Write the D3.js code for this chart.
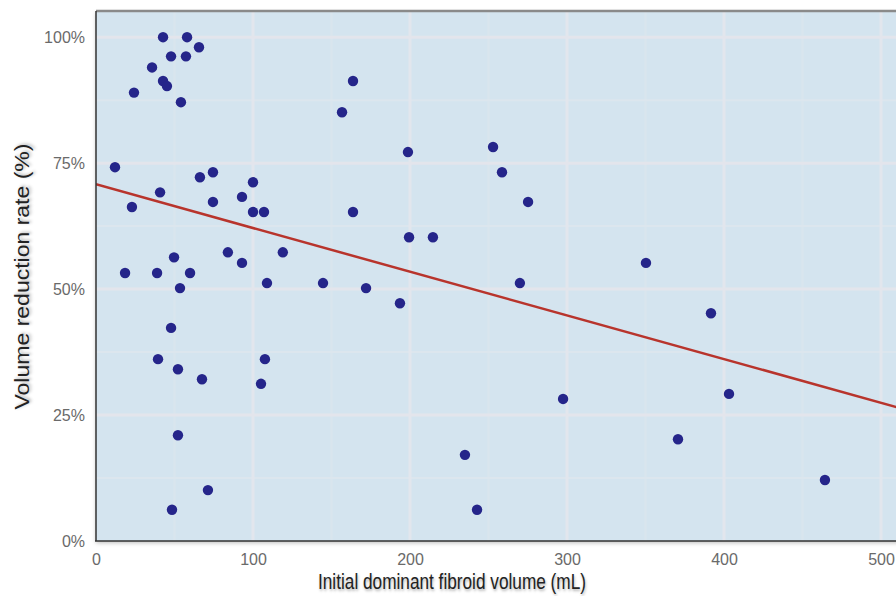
<!DOCTYPE html>
<html><head><meta charset="utf-8">
<script src="https://cdn.jsdelivr.net/npm/d3@7"></script>
<style>
html,body{margin:0;padding:0;background:#fff;overflow:hidden}
svg{display:block}
.tick text{font-family:"Liberation Sans",Arial,sans-serif;font-size:16px;fill:#6a6a6a}
.title{font-family:"Liberation Sans",Arial,sans-serif;font-size:20px;fill:#222;text-shadow:1px 2px 3px rgba(0,0,0,0.3)}
</style></head>
<body>
<svg id="c" width="896" height="596"></svg>
<script>
const volumes = [42.7,58,65.6,47.8,57.3,35.7,42.7,45.2,24.2,54.1,163.7,156.7,12.1,252.9,198.7,258.6,74.5,66.2,100,40.8,93,74.5,275.2,22.9,100,107,163.7,199.4,214.6,84,119,350.3,93,49.7,18.5,38.9,59.9,53.5,108.9,144.6,172,270,193.6,391.7,47.8,39.5,107.6,52.2,67.5,105.1,297.5,403.2,52.2,370.7,235,71.3,464.3,48.4,242.7];
const reductions = [100,100,98,96.2,96.2,94,91.3,90.3,89,87.1,91.3,85.1,74.2,78.2,77.2,73.2,73.2,72.2,71.2,69.2,68.3,67.3,67.3,66.3,65.3,65.3,65.3,60.3,60.3,57.3,57.3,55.2,55.2,56.3,53.2,53.2,53.2,50.2,51.2,51.2,50.2,51.2,47.2,45.2,42.3,36.1,36.1,34.1,32.1,31.2,28.2,29.2,21,20.2,17.1,10.1,12.1,6.2,6.2];
const trendX = [0, 550];
const trendY = [70.8, 23.1];
const xTicks = [0,100,200,300,400,500];
const yTicks = [0,25,50,75,100];

const svg = d3.select("#c");
const L = 96, T = 11, B = 541, R = 96 + 1.57*550;
const x = d3.scaleLinear().domain([0,550]).range([L,R]);
const y = d3.scaleLinear().domain([0,105.2]).range([B,T]);

const defs = svg.append("defs");
defs.append("clipPath").attr("id","clip").append("rect").attr("x",L).attr("y",T).attr("width",R-L).attr("height",B-T);
const sh = defs.append("filter").attr("id","sh").attr("x","-10%").attr("y","-10%").attr("width","120%").attr("height","140%");
sh.append("feDropShadow").attr("dx",0).attr("dy",2).attr("stdDeviation",2).attr("flood-color","#000").attr("flood-opacity",0.25);

svg.append("rect").attr("x",L).attr("y",T).attr("width",R-L).attr("height",B-T).attr("fill","#d4e4ef").attr("filter","url(#sh)");

const g = svg.append("g").attr("clip-path","url(#clip)");
// minor grid
g.selectAll(".mx").data(d3.range(50,560,100)).join("line")
 .attr("x1",d=>x(d)).attr("x2",d=>x(d)).attr("y1",T).attr("y2",B)
 .attr("stroke","#d9e5ee").attr("stroke-width",2);
g.selectAll(".my").data(d3.range(12.5,105,25)).join("line")
 .attr("x1",L).attr("x2",R).attr("y1",d=>y(d)).attr("y2",d=>y(d))
 .attr("stroke","#dce6ee").attr("stroke-width",2);
// major grid
g.selectAll(".gx").data(xTicks.slice(1)).join("line")
 .attr("x1",d=>x(d)).attr("x2",d=>x(d)).attr("y1",T).attr("y2",B)
 .attr("stroke","#e2e6ed").attr("stroke-width",3);
g.selectAll(".gy").data(yTicks.slice(1)).join("line")
 .attr("x1",L).attr("x2",R).attr("y1",d=>y(d)).attr("y2",d=>y(d))
 .attr("stroke","#e3e5ec").attr("stroke-width",3);

// trend line
g.append("line").attr("x1",x(trendX[0])).attr("y1",y(trendY[0])).attr("x2",x(trendX[1])).attr("y2",y(trendY[1]))
 .attr("stroke","#b8342c").attr("stroke-width",2.5);

// points
g.selectAll("circle").data(volumes.map((v,i)=>[v,reductions[i]])).join("circle")
 .attr("cx",d=>x(d[0])).attr("cy",d=>y(d[1])).attr("r",5.2).attr("fill","#25258a");

// borders
svg.append("line").attr("x1",L).attr("x2",R).attr("y1",T).attr("y2",T).attr("stroke","#8a8a8a").attr("stroke-width",2.5);
svg.append("line").attr("x1",L).attr("x2",L).attr("y1",T).attr("y2",B).attr("stroke","#333").attr("stroke-width",1.5);
svg.append("line").attr("x1",L-1).attr("x2",R).attr("y1",B).attr("y2",B).attr("stroke","#333").attr("stroke-width",1.5);

// axes
const xa = svg.append("g").attr("transform",`translate(0,${B})`)
 .call(d3.axisBottom(x).tickValues(xTicks).tickSize(0).tickPadding(13));
xa.select(".domain").remove();
const ya = svg.append("g").attr("transform",`translate(${L},0)`)
 .call(d3.axisLeft(y).tickValues(yTicks).tickSize(0).tickPadding(11).tickFormat(d=>d+"%"));
ya.select(".domain").remove();
ya.selectAll(".tick text").attr("dy","0.36em");

svg.append("text").attr("class","title").attr("x",452).attr("y",589).attr("text-anchor","middle").style("font-size","21.5px")
 .attr("textLength",268).attr("lengthAdjust","spacingAndGlyphs").text("Initial dominant fibroid volume (mL)");
svg.append("text").attr("class","title").attr("transform","translate(29,276.5) rotate(-90)").attr("text-anchor","middle")
 .attr("textLength",266).attr("lengthAdjust","spacingAndGlyphs").text("Volume reduction rate (%)");
</script>
</body></html>
